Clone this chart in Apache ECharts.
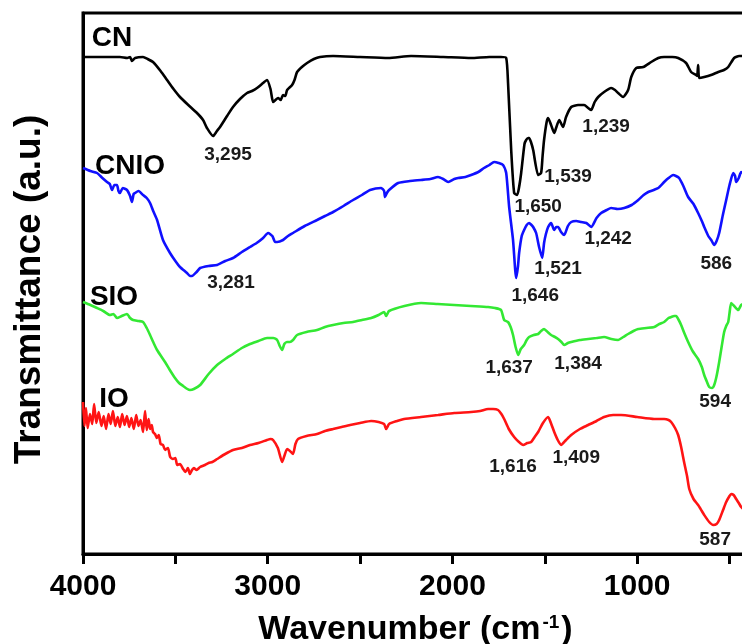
<!DOCTYPE html>
<html>
<head>
<meta charset="utf-8">
<script src="https://cdn.jsdelivr.net/npm/echarts@6/dist/echarts.min.js"></script>
<style>
html,body{margin:0;padding:0;overflow:hidden;background:#fff;}
#chart{width:760px;height:644px;}
</style>
</head>
<body>
<div id="chart"></div>
<script>
// ---- data (wavenumber cm^-1, transmittance a.u., curves offset) ----
const tickValues = [500, 1000, 1500, 2000, 2500, 3000, 3500, 4000];
const tickLabels = [1000, 2000, 3000, 4000];

const CN = [[4000,497],[3800,497],[3760,496],[3745,497],[3735,493],[3718,496],[3675,497],[3650,495],[3621,492],[3580,483],[3545,474],[3510,465],[3475,457],[3430,449],[3383,441],[3350,434],[3329,426],[3296,418],[3275,423],[3258,427],[3220,438],[3188,447],[3150,455],[3112,461],[3085,463],[3058,466],[3025,471],[3004,474],[2985,465],[2971,452],[2958,454],[2944,456],[2930,454],[2917,459],[2905,458],[2895,464],[2868,469],[2855,474],[2841,482],[2815,487],[2787,491],[2750,495],[2717,497],[2646,498],[2500,497],[2348,496],[2224,498],[2050,497],[1899,496],[1800,497],[1737,497],[1709,496],[1699,471],[1682,404],[1666,361],[1650,359],[1640,366],[1628,381],[1610,410],[1601,414],[1590,416],[1585,416],[1575,412],[1563,404],[1536,379],[1520,381],[1512,398],[1504,414],[1490,432],[1482,436],[1466,429],[1449,421],[1439,426],[1422,434],[1401,427],[1385,437],[1357,447],[1320,449],[1287,449],[1265,446],[1249,444],[1230,452],[1211,457],[1179,462],[1141,466],[1120,464],[1103,461],[1076,457],[1049,464],[1032,477],[1005,486],[967,487],[924,492],[886,496],[854,497],[810,497],[778,496],[735,491],[708,482],[681,479],[675,478],[670,489],[664,476],[637,477],[600,479],[561,482],[530,484],[507,487],[475,496],[448,498],[431,498],[400,498]];

const CNIO = [[4000,386],[3960,383],[3924,381],[3895,376],[3870,372],[3855,370],[3843,364],[3830,369],[3816,369],[3808,363],[3800,361],[3785,366],[3762,364],[3745,358],[3735,352],[3726,360],[3718,361],[3700,363],[3675,359],[3655,356],[3637,351],[3620,343],[3599,334],[3567,314],[3529,301],[3500,293],[3475,287],[3437,281],[3421,278],[3410,278],[3385,282],[3366,286],[3320,288],[3274,289],[3230,293],[3188,296],[3140,302],[3096,307],[3060,311],[3025,316],[2998,321],[2975,318],[2960,312],[2949,312],[2917,314],[2890,318],[2863,321],[2800,328],[2733,334],[2690,338],[2646,342],[2590,348],[2538,354],[2490,359],[2446,364],[2386,366],[2370,363],[2365,357],[2355,361],[2343,364],[2294,371],[2230,373],[2170,374],[2120,375],[2078,377],[2050,375],[2023,372],[1990,375],[1969,376],[1930,377],[1899,379],[1860,382],[1829,386],[1800,389],[1774,392],[1750,391],[1726,389],[1709,381],[1693,347],[1672,314],[1655,276],[1645,288],[1639,301],[1625,318],[1612,324],[1598,329],[1585,331],[1572,329],[1563,327],[1547,321],[1531,307],[1514,296],[1504,311],[1494,320],[1482,327],[1466,331],[1449,324],[1438,327],[1428,327],[1412,322],[1395,319],[1375,328],[1357,332],[1330,333],[1303,332],[1275,331],[1249,327],[1220,336],[1195,341],[1165,344],[1141,346],[1105,345],[1070,346],[1030,349],[994,354],[965,359],[940,362],[910,364],[886,366],[854,372],[830,376],[805,379],[790,378],[773,376],[750,368],[724,357],[695,350],[670,341],[650,333],[637,327],[615,318],[599,314],[583,309],[570,313],[556,321],[535,340],[518,354],[500,369],[480,381],[470,378],[464,372],[450,376],[437,382],[420,380],[400,378]];

const SIO = [[4000,252],[3960,249],[3924,246],[3890,243],[3854,239],[3835,240],[3816,236],[3790,238],[3762,240],[3745,236],[3729,234],[3700,233],[3675,232],[3655,226],[3637,219],[3620,212],[3599,204],[3556,192],[3530,184],[3502,176],[3480,171],[3458,168],[3435,165],[3421,164],[3400,165],[3366,169],[3320,180],[3274,189],[3230,195],[3188,200],[3140,206],[3096,210],[3050,213],[3004,216],[2970,216],[2949,214],[2935,208],[2922,204],[2910,210],[2895,212],[2880,212],[2863,214],[2841,219],[2790,222],[2733,224],[2690,227],[2646,229],[2590,231],[2538,232],[2490,234],[2440,236],[2400,239],[2370,242],[2359,238],[2343,243],[2260,248],[2170,251],[2080,250],[1991,249],[1900,248],[1807,247],[1770,246],[1737,244],[1720,234],[1699,232],[1685,227],[1672,219],[1658,207],[1644,199],[1630,205],[1612,209],[1598,214],[1585,217],[1560,219],[1536,220],[1520,223],[1504,225],[1485,222],[1466,219],[1445,217],[1428,215],[1410,212],[1395,209],[1375,211],[1357,212],[1310,214],[1265,215],[1220,216],[1179,217],[1140,215],[1103,214],[1075,217],[1049,220],[1020,223],[994,225],[950,226],[908,227],[880,230],[854,232],[830,236],[816,237],[800,238],[789,238],[775,234],[762,229],[745,221],[724,212],[700,203],[670,195],[650,187],[637,179],[622,172],[610,167],[595,166],[583,169],[570,178],[556,192],[542,208],[529,222],[518,228],[507,232],[500,241],[491,251],[475,248],[453,244],[437,249],[420,250],[400,250]];

const IO = [[4000,152],[3992,128],[3984,146],[3975,126],[3962,140],[3950,130],[3940,150],[3928,131],[3915,142],[3900,128],[3888,138],[3875,125],[3862,140],[3850,130],[3838,143],[3825,128],[3812,137],[3800,127],[3788,140],[3775,129],[3762,138],[3750,127],[3738,136],[3725,125],[3712,139],[3700,128],[3688,134],[3675,122],[3664,143],[3655,124],[3645,135],[3637,125],[3628,129],[3621,122],[3610,120],[3600,116],[3590,119],[3580,110],[3567,109],[3555,104],[3540,106],[3528,97],[3513,95],[3500,96],[3490,89],[3475,90],[3458,85],[3445,82],[3432,86],[3421,80],[3410,84],[3400,86],[3385,84],[3366,87],[3340,89],[3320,91],[3300,92],[3274,95],[3230,100],[3188,104],[3140,106],[3096,109],[3050,111],[3004,114],[2985,115],[2971,114],[2945,106],[2922,92],[2910,98],[2895,105],[2880,103],[2863,100],[2850,110],[2836,115],[2790,118],[2733,120],[2690,123],[2646,125],[2600,127],[2554,129],[2500,131],[2440,133],[2400,132],[2370,130],[2359,125],[2343,130],[2300,133],[2262,135],[2170,137],[2078,139],[1990,141],[1899,142],[1850,143],[1807,145],[1780,145],[1753,144],[1735,140],[1720,135],[1695,125],[1666,117],[1640,112],[1617,109],[1595,111],[1574,112],[1555,117],[1536,122],[1510,131],[1482,137],[1465,130],[1449,122],[1430,114],[1412,109],[1385,114],[1357,119],[1310,125],[1265,129],[1220,133],[1179,137],[1130,139],[1087,139],[1000,137],[908,135],[854,135],[830,134],[816,132],[795,126],[778,119],[762,107],[746,92],[730,78],[718,65],[695,55],[670,49],[650,43],[637,39],[610,32],[588,29],[570,30],[556,34],[535,44],[518,52],[500,58],[491,60],[478,59],[464,55],[450,51],[437,47],[420,44],[400,40]];

const seriesNames = [[3843,516,'CN'],[3745,388,'CNIO'],[3832,257,'SIO'],[3832,155,'IO']];
const peakLabels = [[3215,399,'3,295'],[3199,271,'3,281'],[1536,347,'1,650'],[1374,377,'1,539'],[1168,427,'1,239'],[1157,315,'1,242'],[1428,285,'1,521'],[1552,258,'1,646'],[572,290,'586'],[1693,186,'1,637'],[1320,190,'1,384'],[578,152,'594'],[1672,87,'1,616'],[1330,96,'1,409'],[578,14,'587']];

const FONT = 'Liberation Sans, Arial, sans-serif';
const chart = echarts.init(document.getElementById('chart'));
function line(name, data, color){
  return {name, type:'line', data, showSymbol:false, symbol:'none', smooth:0.2,
    lineStyle:{color, width:2.6}, z:3, silent:true};
}
function textLayer(data, size, color){
  return {type:'scatter', data, symbolSize:0, z:5, silent:true,
    itemStyle:{opacity:1},
    label:{show:true, position:'inside', formatter:p=>p.value[2], fontSize:size, fontWeight:'bold', color, opacity:1, fontFamily:FONT}};
}
chart.setOption({
  animation:false,
  grid:{left:83, top:13, width:665, height:541, containLabel:false, outerBoundsMode:'none',
    show:true, borderColor:'#000', borderWidth:3, backgroundColor:'transparent'},
  xAxis:{type:'value', inverse:true, min:400, max:4000,
    axisLine:{show:true, onZero:false, lineStyle:{color:'#000', width:3}},
    axisTick:{show:true, customValues:tickValues, length:10, inside:false, lineStyle:{color:'#000', width:3}},
    axisLabel:{show:true, customValues:tickLabels, formatter:v=>String(v), margin:18, fontSize:30, fontWeight:'bold', color:'#000', fontFamily:FONT},
    splitLine:{show:false},
    name:'{t|Wavenumber (cm}{s|-1}{t|)}', nameLocation:'middle', nameGap:59,
    nameTextStyle:{rich:{
      t:{fontSize:34, fontWeight:'bold', color:'#000', fontFamily:FONT},
      s:{fontSize:19, fontWeight:'bold', color:'#000', fontFamily:FONT, verticalAlign:'top', padding:[0,2,14,2]}
    }}
  },
  yAxis:{type:'value', min:0, max:541,
    axisLine:{show:true, lineStyle:{color:'#000', width:3}},
    axisTick:{show:false}, axisLabel:{show:false}, splitLine:{show:false},
    name:'Transmittance (a.u.)', nameLocation:'middle', nameRotate:90, nameGap:35,
    nameTextStyle:{fontSize:37, fontWeight:'bold', color:'#000', fontFamily:FONT, padding:[0,12,0,0]}
  },
  series:[
    line('CN', CN, '#000000'),
    line('CNIO', CNIO, '#1010ff'),
    line('SIO', SIO, '#33e833'),
    line('IO', IO, '#ff1414'),
    textLayer(seriesNames, 28, '#000'),
    textLayer(peakLabels, 19, '#1a1a1a')
  ]
});
</script>
</body>
</html>
